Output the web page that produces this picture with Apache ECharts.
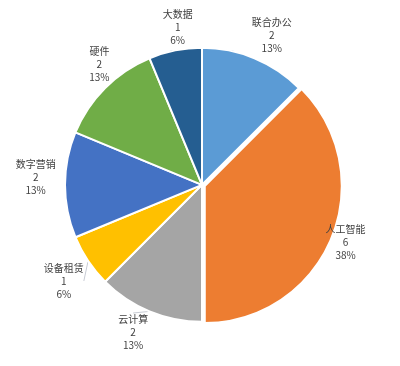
<!DOCTYPE html>
<html lang="zh">
<head>
    <meta charset="UTF-8">
    <title>饼图</title>
    <script src="https://cdn.jsdelivr.net/npm/echarts@6/dist/echarts.min.js"></script>
    <style>
        html, body { margin: 0; padding: 0; background: #fff; }
        #main { width: 400px; height: 366px; }
    </style>
</head>
<body>
<div id="main"></div>
<script type="text/javascript">
    // 数据
    var names = ['联合办公', '人工智能', '云计算', '设备租赁', '数字营销', '硬件', '大数据'];
    var counts = [2, 6, 2, 1, 2, 2, 1];
    var colors = ['#5B9BD5', '#ED7D31', '#A5A5A5', '#FFC000', '#4472C4', '#70AD47', '#255E91'];
    var withLine = ['设备租赁', '云计算'];

    var R = 137;
    var rot = 2.5 * Math.PI / 180;

    var myChart = echarts.init(document.getElementById('main'));

    var pieData = names.map(function (n, i) {
        return {
            name: n,
            value: counts[i],
            selected: n === '人工智能',
            itemStyle: {color: colors[i]},
            labelLine: {lineStyle: {color: withLine.indexOf(n) >= 0 ? '#c8ccd4' : 'rgba(0,0,0,0)'}}
        };
    });

    myChart.setOption({
        animation: false,
        series: [{
            type: 'pie',
            center: ['50.5%', '50.5%'],
            radius: R,
            startAngle: 90,
            selectedMode: 'single',
            selectedOffset: 3,
            data: pieData,
            itemStyle: {borderColor: '#fff', borderWidth: 2},
            emphasis: {disabled: true},
            label: {
                show: true,
                position: 'outside',
                formatter: function (p) {
                    return p.name + '\n' + p.value + '\n' + Math.round(p.percent) + '%';
                },
                fontFamily: 'Noto Sans CJK SC',
                fontSize: 10,
                lineHeight: 13,
                color: '#404040'
            },
            labelLine: {show: true, length: 10, length2: 0, lineStyle: {width: 1}},
            labelLayout: function (params) {
                var pts = params.labelLinePoints;
                if (!pts) return {};
                var dx = pts[1][0] - pts[0][0], dy = pts[1][1] - pts[0][1];
                var len = Math.sqrt(dx * dx + dy * dy) || 1;
                dx /= len; dy /= len;
                // 圆心
                var cx = pts[0][0] - dx * R, cy = pts[0][1] - dy * R;
                // 标签整体顺时针偏一点
                var rx = dx * Math.cos(rot) - dy * Math.sin(rot);
                var ry = dx * Math.sin(rot) + dy * Math.cos(rot);
                var w = params.labelRect.width, h = params.labelRect.height;
                var d = R + 9 + Math.abs(rx) * w / 2 + Math.abs(ry) * h * 0.3;
                return {
                    x: cx + rx * d,
                    y: cy + ry * d,
                    align: 'center',
                    verticalAlign: 'middle',
                    hideOverlap: false
                };
            }
        }]
    });
</script>
</body>
</html>
